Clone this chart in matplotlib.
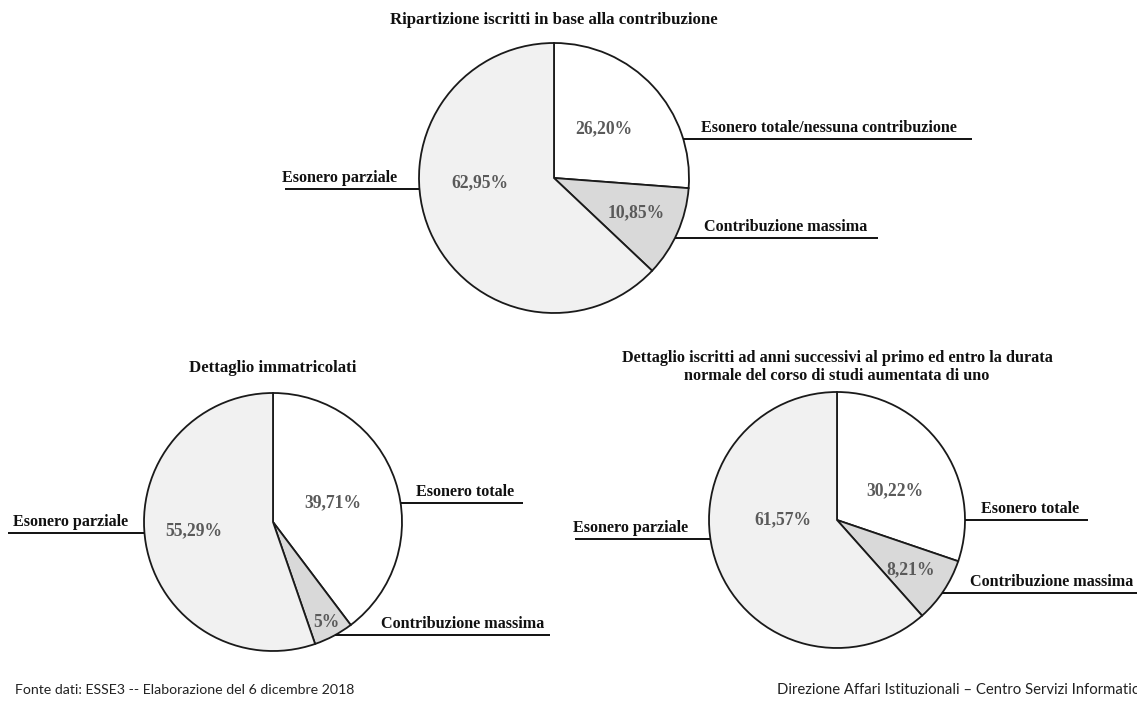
import matplotlib
matplotlib.use("Agg")
import matplotlib.pyplot as plt
import numpy as np

W, H = 1137, 702

# data
categories = ["Esonero totale", "Contribuzione massima", "Esonero parziale"]
top_values = [26.20, 10.85, 62.95]
matr_values = [39.71, 5, 55.29]
succ_values = [30.22, 8.21, 61.57]

top_names = ["Esonero totale/nessuna contribuzione", "Contribuzione massima", "Esonero parziale"]
matr_names = ["Esonero totale", "Contribuzione massima", "Esonero parziale"]
succ_names = ["Esonero totale", "Contribuzione massima", "Esonero parziale"]

top_title = "Ripartizione iscritti in base alla contribuzione"
matr_title = "Dettaglio immatricolati"
succ_title = ("Dettaglio iscritti ad anni successivi al primo ed entro la durata\n"
              "normale del corso di studi aumentata di uno")

footer_left = "Fonte dati: ESSE3 -- Elaborazione del 6 dicembre 2018"
footer_right = "Direzione Affari Istituzionali \u2013 Centro Servizi Informatici"

slice_colors = ["#ffffff", "#d9d9d9", "#f1f1f1"]
SERIF = "Liberation Serif"

# layout (pixel coords, y from top)
pies = [
    dict(values=top_values, names=top_names, title=top_title,
         center=(554, 178), r=135, title_y=20, title_size=12.1,
         pct_pos=[(45, 0.52), (-23, 0.66), (184, 0.55)],
         lines=[(139, 972, 829), (238, 878, 786), (189, 285, 340)]),
    dict(values=matr_values, names=matr_names, title=matr_title,
         center=(273, 522), r=129, title_y=368, title_size=12.1,
         pct_pos=[(18, 0.49), (-62, 0.88), (186, 0.62)],
         lines=[(503, 523, 465), (635, 550, 463), (533, 8, 71)]),
    dict(values=succ_values, names=succ_names, title=succ_title,
         center=(837, 520), r=128, title_y=367, title_size=11.7,
         pct_pos=[(27, 0.51), (-34, 0.69), (180, 0.42)],
         lines=[(520, 1088, 1030), (593, 1140, 1052), (539, 575, 631)]),
]


def fmt_pct(v):
    if float(v).is_integer():
        return f"{int(v)}%"
    return f"{v:.2f}%".replace(".", ",")


fig = plt.figure(figsize=(W / 100, H / 100), dpi=100)
ax = fig.add_axes([0, 0, 1, 1])

for p in pies:
    cx, cy = p["center"]
    r = p["r"]
    cyd = H - cy
    ax.pie(p["values"], colors=slice_colors, startangle=90, counterclock=False,
           center=(cx, cyd), radius=r, frame=True,
           wedgeprops=dict(edgecolor="#1a1a1a", linewidth=1.3))

    # percentages
    for v, (ang, dist) in zip(p["values"], p["pct_pos"]):
        a = np.deg2rad(ang)
        ax.text(cx + dist * r * np.cos(a), cyd + dist * r * np.sin(a), fmt_pct(v),
                ha="center", va="center", fontsize=12.7, fontweight="bold",
                family=SERIF, color="#5a5a5a")

    # category labels with horizontal leader lines
    for name, (ly, end_x, tx) in zip(p["names"], p["lines"]):
        dy = cy - ly
        dx = np.sqrt(max(r * r - dy * dy, 0))
        start_x = cx + dx if end_x > cx else cx - dx
        ax.plot([start_x, end_x], [H - ly, H - ly], color="#111111", lw=1.4,
                solid_capstyle="butt")
        ax.text(tx, H - ly + 11, name, ha="center", va="center", fontsize=11.6,
                fontweight="bold", family=SERIF, color="#111111")

    ax.text(cx, H - p["title_y"], p["title"], ha="center", va="center",
            fontsize=p["title_size"], fontweight="bold", family=SERIF,
            color="#111111", linespacing=1.25)

ax.set_xlim(0, W)
ax.set_ylim(0, H)
ax.set_axis_off()

fig.text(15 / W, 1 - 690 / H, footer_left, ha="left", va="center",
         fontsize=10.2, family="Lato", color="#222222")
fig.text(777 / W, 1 - 690 / H, footer_right, ha="left", va="center",
         fontsize=10.7, family="Lato", color="#222222")

fig.savefig("out.png", dpi=100, facecolor="white")
